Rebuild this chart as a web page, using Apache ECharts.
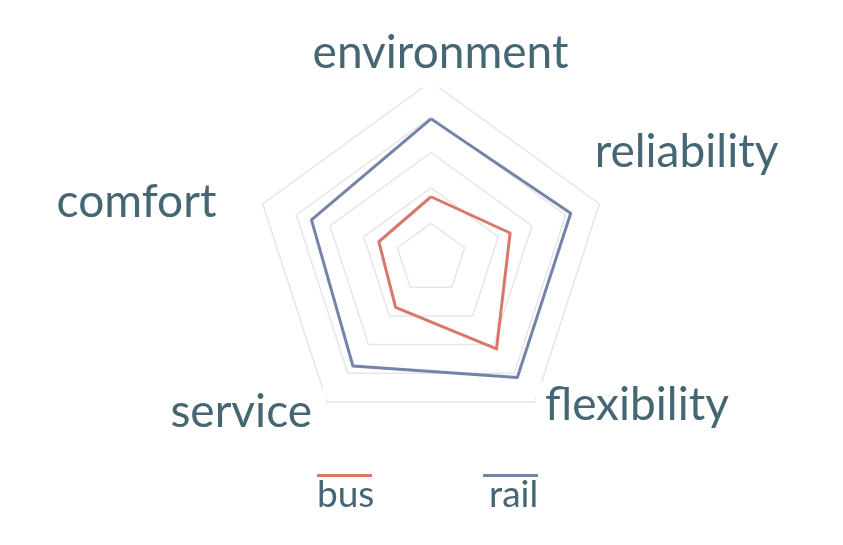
<!DOCTYPE html>
<html>
<head>
<meta charset="utf-8">
<style>
html,body{margin:0;padding:0;background:#fff;}
#chart{width:843px;height:545px;}
</style>
<script src="https://cdn.jsdelivr.net/npm/echarts@6/dist/echarts.min.js"></script>
</head>
<body>
<div id="chart"></div>
<script>
// indicators, counterclockwise from top (ECharts order)
const indicators = ['environment', 'comfort', 'service', 'flexibility', 'reliability'];
const seriesNames = ['bus', 'rail'];
const busValues  = [0.35, 0.31, 0.34, 0.63, 0.47];
const railValues = [0.79, 0.71, 0.75, 0.83, 0.83];
const colors = ['#d8776b', '#7384a8'];
const textColor = '#456673';
const font = 'Lato';

// per-label rich text layout (spacing only)
const nameFormat = {
  environment: function (n) { return '{env|' + n + '}'; },
  reliability: function (n) { return '{rel|' + n + '}'; },
  comfort:     function (n) { return '{com|' + n + '}'; },
  flexibility: function (n) { return '{fv| }\n{hf| }{flex|' + n + '}'; },
  service:     function (n) { return '{sv| }\n{serv|' + n + '}{hs| }'; }
};
const base = { fontSize: 46, fontFamily: font, color: textColor };
function st(extra) { return Object.assign({}, base, extra); }

const chart = echarts.init(document.getElementById('chart'));
function legendPair(name, iconLeft, textLeft, color) {
  return [
    {
      data: [name], left: iconLeft, top: 474, icon: 'rect',
      itemWidth: 55, itemHeight: 3, formatter: function () { return ''; },
      itemStyle: { color: color, borderWidth: 0 }, selectedMode: false, padding: 0
    },
    {
      data: [name], left: textLeft, top: 477, icon: 'rect',
      itemWidth: 0, itemHeight: 0, itemStyle: { opacity: 0 }, selectedMode: false, padding: 0,
      textStyle: { color: textColor, fontSize: 37, fontFamily: font }
    }
  ];
}
chart.setOption({
  backgroundColor: '#fff',
  animation: false,
  legend: [].concat(
    legendPair(seriesNames[0], 317, 312, colors[0]),
    legendPair(seriesNames[1], 483, 484, colors[1])
  ),
  radar: {
    center: [431, 258.7],
    radius: 177,
    shape: 'polygon',
    splitNumber: 5,
    nameGap: -6,
    indicator: indicators.map(function (n) { return { name: n, min: 0, max: 1 }; }),
    axisName: {
      color: textColor, fontSize: 46, fontFamily: font,
      formatter: function (n) { return nameFormat[n](n); },
      rich: {
        env: st({ backgroundColor: '#fff', padding: [0, 0, 12, 19] }),
        rel: st({ padding: [0, 0, 107, 1] }),
        com: st({ padding: [0, 52, 7, 0] }),
        fv: { fontSize: 1, lineHeight: 16 },
        hf: { fontSize: 1, lineHeight: 1, width: 4.5 },
        flex: st({ lineHeight: 46, backgroundColor: '#fff', padding: [0, 0, 0, 9] }),
        sv: { fontSize: 1, lineHeight: 31 },
        serv: st({ lineHeight: 46, backgroundColor: '#fff', padding: [0, 14, 0, 0] }),
        hs: { fontSize: 1, lineHeight: 1, width: 4.5 }
      }
    },
    axisLine: { show: false },
    axisTick: { show: false },
    axisLabel: { show: false },
    splitArea: { show: false },
    splitLine: { lineStyle: { color: '#e6e6e6', width: 1.5 } }
  },
  series: [{
    type: 'radar',
    symbol: 'none',
    data: [
      { name: seriesNames[0], value: busValues, lineStyle: { color: colors[0], width: 3 }, itemStyle: { color: colors[0] } },
      { name: seriesNames[1], value: railValues, lineStyle: { color: colors[1], width: 3 }, itemStyle: { color: colors[1] } }
    ]
  }]
});
</script>
</body>
</html>
